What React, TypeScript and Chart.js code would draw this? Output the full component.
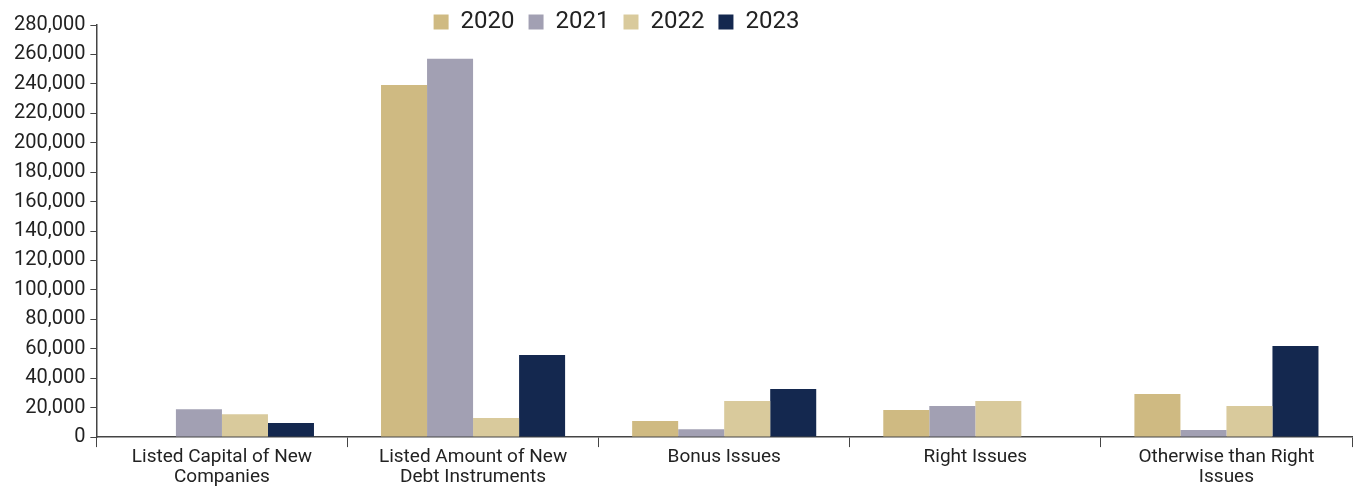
import React, { useEffect, useRef } from "react";
import { Chart, registerables } from "chart.js";

Chart.register(...registerables);

const categories: string[][] = [
  ["Listed Capital of New", "Companies"],
  ["Listed Amount of New", "Debt Instruments"],
  ["Bonus Issues"],
  ["Right Issues"],
  ["Otherwise than Right", "Issues"],
];
const seriesNames = ["2020", "2021", "2022", "2023"];
const values2020 = [0, 239300, 10900, 18400, 29200];
const values2021 = [19000, 257000, 5400, 21100, 4800];
const values2022 = [15600, 12900, 24500, 24500, 21100];
const values2023 = [9500, 55700, 32600, 0, 61900];
const colors = ["#CFBA82", "#A2A0B3", "#D9CA9C", "#14284F"];

const FONT = "Roboto, 'Liberation Sans', Arial, sans-serif";

// Lets the legend float over the top of the plot instead of taking layout space.
const legendFloat = {
  id: "legendFloat",
  beforeLayout(chart: any) {
    const l = chart.legend;
    if (l && !l._floatPatched) {
      const orig = l.fit.bind(l);
      l.fit = function () {
        orig();
        this._realHeight = this.height;
        this.height = 0;
      };
      l._floatPatched = true;
    }
  },
  afterLayout(chart: any) {
    const l = chart.legend;
    if (!l) return;
    const dx = -64;
    l.left += dx;
    l.right += dx;
    l.top = -4;
    l.height = l._realHeight || 56;
    l.bottom = l.top + l.height;
  },
};

export default function App() {
  const ref = useRef<HTMLCanvasElement>(null);
  useEffect(() => {
    if (!ref.current) return;
    const all = [values2020, values2021, values2022, values2023];
    const chart = new Chart(ref.current, {
      type: "bar",
      data: {
        labels: categories,
        datasets: seriesNames.map((n, i) => ({
          label: n,
          data: all[i],
          backgroundColor: colors[i],
          borderWidth: 0,
          categoryPercentage: 0.733,
          barPercentage: 1,
        })),
      },
      options: {
        animation: false,
        responsive: false,
        maintainAspectRatio: false,
        layout: { padding: { left: 9, right: 3, top: 25, bottom: 5 } },
        plugins: {
          legend: {
            position: "top",
            align: "center",
            labels: {
              boxWidth: 15,
              boxHeight: 15,
              padding: 14,
              color: "#222",
              font: { family: FONT, size: 24 },
            },
          },
          tooltip: { enabled: false },
        },
        scales: {
          x: {
            grid: {
              drawOnChartArea: false,
              drawTicks: true,
              tickLength: 10,
              color: "#444",
              offset: true,
            },
            border: { color: "#444", width: 1.5 },
            ticks: {
              color: "#222",
              font: { family: FONT, size: 19, lineHeight: 1.05 },
              maxRotation: 0,
              padding: 0,
            },
          },
          y: {
            min: 0,
            max: 280000,
            grid: {
              drawOnChartArea: false,
              drawTicks: true,
              tickLength: 6,
              color: "#444",
            },
            border: { color: "#444", width: 1.5 },
            ticks: {
              stepSize: 20000,
              color: "#222",
              padding: 5,
              font: { family: FONT, size: 20 },
              callback: (v: any) => Number(v).toLocaleString("en-US"),
            },
          },
        },
      },
      plugins: [legendFloat],
    });
    return () => chart.destroy();
  }, []);
  return (
    <div style={{ position: "absolute", left: 0, top: 0, width: 1355, height: 492 }}>
      <canvas ref={ref} width={1355} height={492} style={{ display: "block" }} />
    </div>
  );
}
